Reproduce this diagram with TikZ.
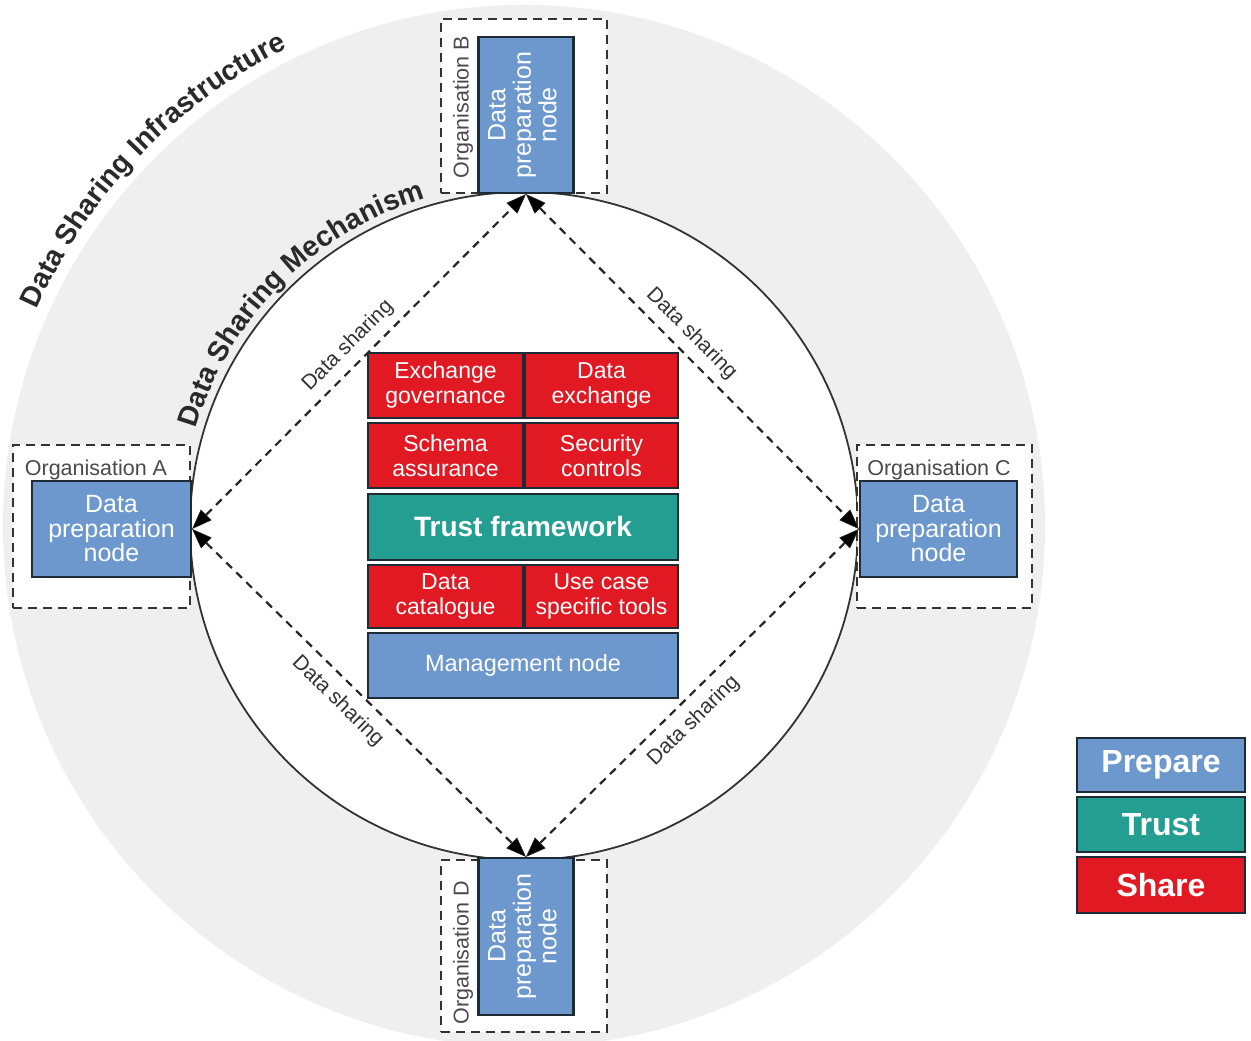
\documentclass[tikz,border=0pt]{standalone}
\usepackage{fontspec}
\setmainfont{Liberation Sans}
\usetikzlibrary{arrows.meta,decorations.text,calc}
\definecolor{prep}{HTML}{6C98CE}
\definecolor{sharec}{HTML}{E11923}
\definecolor{trustc}{HTML}{239E91}
\definecolor{bggrey}{HTML}{EFEFEF}
\definecolor{edgec}{HTML}{1E2A36}
\definecolor{orgtext}{HTML}{4A4A4A}
\definecolor{titlec}{HTML}{2A2A2A}
\definecolor{circc}{HTML}{333333}
\newcommand\dsTitleFont{\bfseries\fontsize{28.5}{30}\selectfont}
\begin{document}
\begin{tikzpicture}[x=1pt,y=1pt,
  prepbox/.style={draw=edgec, line width=2.2pt, fill=prep, text=white, inner sep=0pt,
    font=\fontsize{25}{24.5}\selectfont},
  orgbox/.style={draw=black!80, fill=white, line width=2.2pt, dash pattern=on 9pt off 6pt, inner sep=0pt},
  cell/.style={draw=edgec, line width=2.5pt, text=white, align=center, inner sep=0pt,
    font=\fontsize{23}{25}\selectfont},
  orglabel/.style={text=orgtext, font=\fontsize{21.5}{24}\selectfont, inner sep=0pt},
  sharetip/.tip={Triangle[length=20pt,width=15pt,fill=black,line width=0.5pt]},
  sharearrow/.style={draw=black!85, line width=2.2pt, dash pattern=on 8pt off 6pt,
    sharetip-sharetip},
  sharelbl/.style={font=\fontsize{21}{24}\selectfont, text=black!80, inner sep=0pt, sloped},
  legendbox/.style={draw=edgec, line width=2.5pt, text=white, inner sep=0pt,
    font=\bfseries\fontsize{32}{34}\selectfont, minimum width=168pt}
]
\useasboundingbox (0,0) rectangle (1251,1041);
\fill[white] (0,0) rectangle (1251,1041);
\coordinate (O) at (524,515);
\fill[bggrey] (O) circle[radius=521];
\path[decorate, decoration={text along path, text color=titlec,
   text={|\dsTitleFont|Data Sharing Infrastructure}}]
   ($(O)+(156:533)$) arc[start angle=156, end angle=100, radius=533];
\draw[draw=circc, line width=1.8pt, fill=white] (O) circle[radius=334];
\path[decorate, decoration={text along path, text color=titlec,
   text={|\dsTitleFont|Data Sharing Mechanism}}]
   ($(O)+(163.5:342)$) arc[start angle=163.5, end angle=95, radius=342];

% organisation boxes
\node[orgbox, minimum width=177pt, minimum height=163pt] (orgA) at (101.5,514.5) {};
\node[orgbox, minimum width=166pt, minimum height=174pt] (orgB) at (524,935) {};
\node[orgbox, minimum width=175pt, minimum height=163pt] (orgC) at (944.5,514.5) {};
\node[orgbox, minimum width=166pt, minimum height=172pt] (orgD) at (524,95) {};

\node[orglabel] (labA) at (96,571) {Organisation A};
\node[orglabel, rotate=90] (labB) at (463,934) {Organisation B};
\node[orglabel] (labC) at (939,571) {Organisation C};
\node[orglabel, rotate=90] (labD) at (463,88) {Organisation D};

% data preparation nodes
\node[prepbox, align=center, minimum width=159pt, minimum height=96pt] (A) at (111.5,512)
  {Data\\preparation\\node};
\node[prepbox, align=center, minimum width=157pt, minimum height=96pt] (C) at (938.5,512)
  {Data\\preparation\\node};
\node[prepbox, minimum width=95pt, minimum height=156pt] (B) at (526,926)
  {\rotatebox{90}{\begin{tabular}{@{}c@{}}Data\\preparation\\node\end{tabular}}};
\node[prepbox, minimum width=95pt, minimum height=157pt] (D) at (526,104.5)
  {\rotatebox{90}{\begin{tabular}{@{}c@{}}Data\\preparation\\node\end{tabular}}};

% central stack
\node[cell, fill=sharec, minimum width=155pt, minimum height=65pt] (exg) at (445.5,655.5) {Exchange\\governance};
\node[cell, fill=sharec, minimum width=153pt, minimum height=65pt] (dex) at (601.5,655.5) {Data\\exchange};
\node[cell, fill=sharec, minimum width=155pt, minimum height=65pt] (sch) at (445.5,585.5) {Schema\\assurance};
\node[cell, fill=sharec, minimum width=153pt, minimum height=65pt] (sec) at (601.5,585.5) {Security\\controls};
\node[cell, fill=trustc, minimum width=310pt, minimum height=66pt, font=\bfseries\fontsize{28}{30}\selectfont] (tf) at (523,514) {Trust framework};
\node[cell, fill=sharec, minimum width=155pt, minimum height=63pt] (cat) at (445.5,444.5) {Data\\catalogue};
\node[cell, fill=sharec, minimum width=153pt, minimum height=63pt] (uct) at (601.5,444.5) {Use case\\specific tools};
\node[cell, fill=prep, minimum width=310pt, minimum height=65pt, font=\fontsize{23.5}{25}\selectfont] (mg) at (523,375.5) {Management node};

% data sharing connectors
\draw[sharearrow] (A.east) -- node[sharelbl, pos=0.507, above=8pt] (lab1) {Data sharing} (B.south);
\draw[sharearrow] (B.south) -- node[sharelbl, pos=0.457, above=8pt] (lab2) {Data sharing} (C.west);
\draw[sharearrow] (D.north) -- node[sharelbl, pos=0.46, below=10pt] (lab3) {Data sharing} (C.west);
\draw[sharearrow] (A.east) -- node[sharelbl, pos=0.48, below=10pt] (lab4) {Data sharing} (D.north);

% legend
\node[legendbox, fill=prep, minimum height=54pt] (lp) at (1161,276) {Prepare};
\node[legendbox, fill=trustc, minimum height=55pt] (lt) at (1161,216.5) {Trust};
\node[legendbox, fill=sharec, minimum height=56pt] (ls) at (1161,156) {Share};
\end{tikzpicture}
\end{document}
